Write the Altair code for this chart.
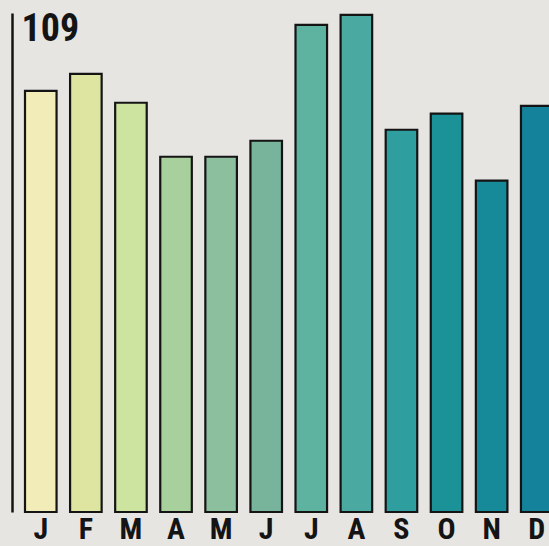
import altair as alt
import pandas as pd

months = ["J", "F", "M", "A", "M", "J", "J", "A", "S", "O", "N", "D"]
keys = [f"{i:02d}" for i in range(12)]
values = [92.0, 95.7, 89.4, 77.6, 77.6, 81.1, 106.4, 108.6, 83.5, 87.0, 72.4, 88.7]
colors = ["#f1ecb8", "#dde5a0", "#cde3a0", "#a8d09c", "#8cbf9e", "#78b39c",
          "#5db2a0", "#4aa9a0", "#2f9e9e", "#1a9298", "#178a9a", "#13829a"]

df = pd.DataFrame({"key": keys, "month": months, "value": values, "color": colors})

label_expr = "{" + ",".join(f"'{k}':'{m}'" for k, m in zip(keys, months)) + "}[datum.value]"

font = "Liberation Sans Narrow, Roboto Condensed, DejaVu Sans Condensed, sans-serif"

chart = alt.Chart(df).mark_bar(stroke="#141414", strokeWidth=2.2).encode(
    x=alt.X("key:N", sort=keys,
            scale=alt.Scale(range=[13, 540.5], paddingInner=0.3, paddingOuter=0),
            axis=alt.Axis(title=None, domain=False, ticks=False, labelExpr=label_expr,
                          labelAngle=0, labelFont=font, labelFontSize=30,
                          labelFontWeight="bold", labelColor="#141414",
                          labelBaseline="alphabetic", labelPadding=26)),
    y=alt.Y("value:Q", scale=alt.Scale(domain=[0, 109], nice=False, zero=True),
            axis=alt.Axis(title=None, values=[109], grid=False, ticks=False,
                          domainColor="#141414", domainWidth=2.5,
                          labelFont=font, labelFontSize=38, labelFontWeight="bold",
                          labelColor="#141414", labelAlign="left", labelBaseline="top",
                          labelPadding=-9, labelOffset=-3)),
    fill=alt.Fill("color:N", scale=None),
).properties(
    width=537, height=499,
    autosize=alt.AutoSizeParams(type="none"),
    padding={"left": 12, "top": 13, "right": 0, "bottom": 34},
    background="#e7e5e2",
).configure_view(stroke=None)

chart.save("out.html", embed_options={"renderer": "svg", "actions": False})
